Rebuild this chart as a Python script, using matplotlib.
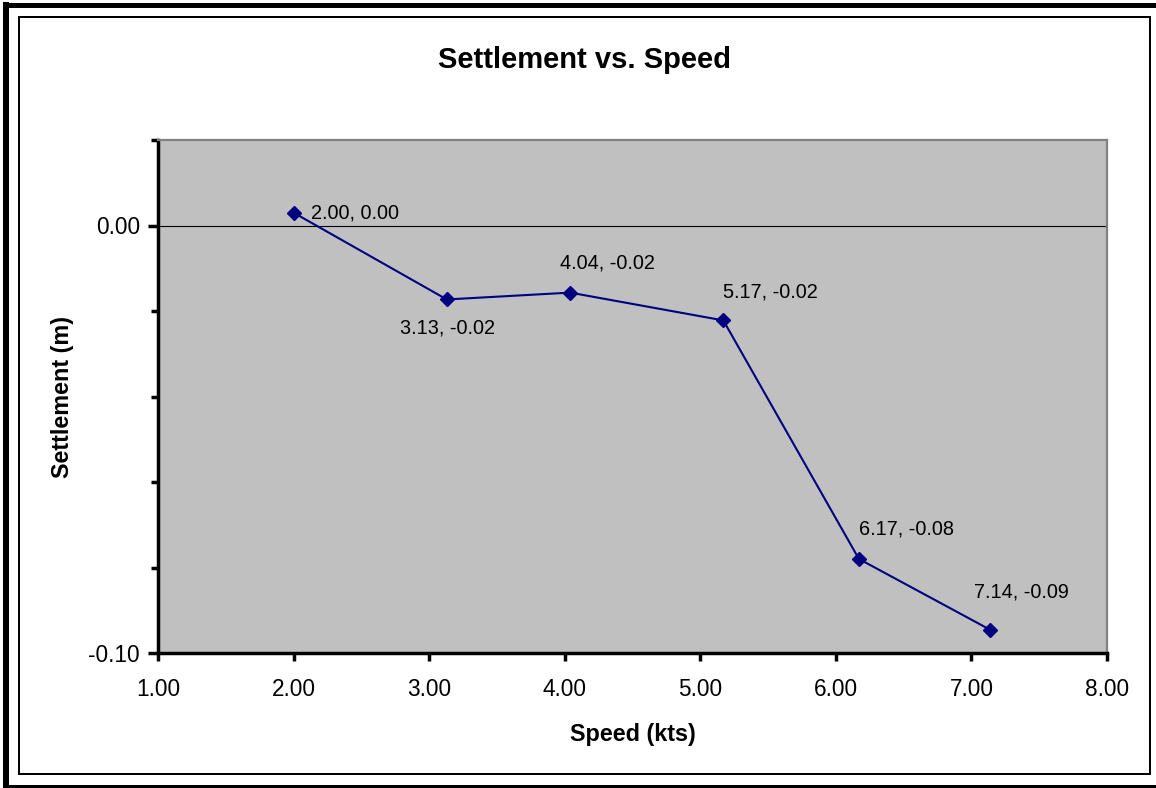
import matplotlib
matplotlib.use("Agg")
import matplotlib.pyplot as plt
from matplotlib.lines import Line2D
from matplotlib.patches import Rectangle
from matplotlib.ticker import MultipleLocator, FixedLocator

plt.rcParams['font.family'] = ['Liberation Sans', 'DejaVu Sans']

# Data
speed = [2.00, 3.13, 4.04, 5.17, 6.17, 7.14]
settlement = [0.003, -0.0173, -0.0157, -0.0222, -0.078, -0.0946]
point_labels = ["2.00, 0.00", "3.13, -0.02", "4.04, -0.02",
                "5.17, -0.02", "6.17, -0.08", "7.14, -0.09"]
# label offsets in pixels (dx, dy) and alignment
label_offsets = [(17, 0, 'left'), (1, -29, 'center'), (37, 30, 'center'),
                 (47, 28, 'center'), (48, 30, 'center'), (31, 38, 'center')]

W, H, DPI = 1156, 788, 100
fig = plt.figure(figsize=(W / DPI, H / DPI), dpi=DPI, facecolor='white')

# frames around the chart
def px_line(x0, y0, x1, y1, lw):
    fig.add_artist(Line2D([x0 / W, x1 / W], [1 - y0 / H, 1 - y1 / H],
                          color='black', lw=lw * 0.72, solid_capstyle='butt'))

px_line(3, 4.5, W, 4.5, 5)
px_line(6, 2, 6, H, 6)
px_line(3, 786.5, W, 786.5, 4)
fig.add_artist(Rectangle((19 / W, 1 - 774 / H), (1150 - 19) / W, (774 - 17) / H,
                         transform=fig.transFigure, fill=False,
                         edgecolor='black', lw=2 * 0.72))

ax = fig.add_axes([158 / W, 1 - 653 / H, (1107 - 158) / W, (653 - 140) / H])
ax.set_facecolor('#C0C0C0')

ax.plot(speed, settlement, color='#000080', lw=1.5, marker='D', markersize=7.5,
        markerfacecolor='#000080', markeredgecolor='#000080', zorder=4)

for x, y, txt, (dx, dy, ha) in zip(speed, settlement, point_labels, label_offsets):
    ax.annotate(txt, (x, y), xytext=(dx, dy), textcoords='offset pixels',
                ha=ha, va='center', fontsize=14.3, color='black', zorder=5)

ax.set_xlim(1.0, 8.0)
ax.set_ylim(-0.10, 0.02)
ax.xaxis.set_major_locator(MultipleLocator(1.0))
ax.xaxis.set_major_formatter(lambda v, p: f"{v:.2f}")
ax.yaxis.set_major_locator(FixedLocator([-0.10, 0.00]))
ax.yaxis.set_minor_locator(MultipleLocator(0.02))
ax.yaxis.set_major_formatter(lambda v, p: f"{v:.2f}")

ax.axhline(0.0, color='black', lw=0.8, zorder=1)

ax.tick_params(axis='both', which='both', direction='out', width=2.5,
               color='black', labelsize=16.3)
ax.tick_params(axis='x', length=6, pad=12)
ax.tick_params(axis='y', which='major', length=7, pad=6)
ax.tick_params(axis='y', which='minor', length=5)

for side in ['left', 'bottom']:
    ax.spines[side].set_linewidth(2.5)
    ax.spines[side].set_color('black')
for side in ['top', 'right']:
    ax.spines[side].set_linewidth(1.6)
    ax.spines[side].set_color('#808080')

ax.set_xlabel('Speed (kts)', fontsize=16.8, fontweight='bold', labelpad=16)
ax.set_ylabel('Settlement (m)', fontsize=16.8, fontweight='bold', labelpad=10)
fig.text(585 / W, 1 - 60 / H, 'Settlement vs. Speed', fontsize=21,
         fontweight='bold', ha='center', va='center')

fig.savefig('out.png', dpi=DPI, facecolor='white')
